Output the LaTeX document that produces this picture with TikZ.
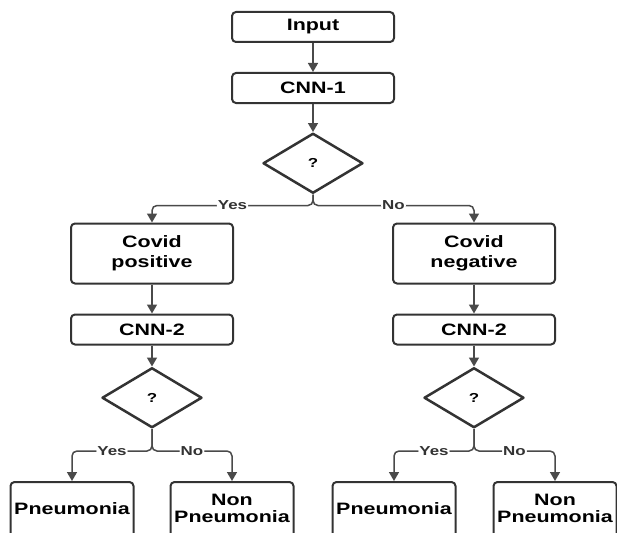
\documentclass[tikz,border=0pt]{standalone}
\usepackage{fontspec}
\setmainfont{Liberation Sans}[FakeStretch=1.3]
\usepackage{tikz}
\usetikzlibrary{shapes.geometric, arrows.meta, positioning}

\definecolor{boxline}{HTML}{333333}
\definecolor{flowline}{HTML}{4A4A4A}

\begin{document}
\begin{tikzpicture}[x=1pt, y=1pt]
        \tikzstyle{block} = [rectangle, draw=boxline, line width=2pt, rounded corners=4pt, align=center, minimum width=162pt, minimum height=30pt, font=\bfseries\fontsize{16.5}{20}\selectfont]
        \tikzstyle{tall} = [minimum height=60pt]
        \tikzstyle{leaf} = [block, minimum width=123pt, minimum height=60pt, text depth=7.5pt, font=\bfseries\fontsize{16.5}{17.5}\selectfont]
        \tikzstyle{decision} = [diamond, draw=boxline, line width=2.5pt, line join=round, minimum width=100pt, minimum height=60pt, inner sep=0pt, font=\bfseries\fontsize{13}{15}\selectfont]
        \tikzstyle{flow} = [draw=flowline, line width=1.5pt, -{Triangle[width=10pt, length=9pt]}]
        \tikzstyle{branch} = [flow, rounded corners=5pt]
        \tikzstyle{answer} = [fill=white, inner sep=1pt, text=boxline, font=\bfseries\fontsize{13}{15}\selectfont]

        \useasboundingbox (0,0) rectangle (617,-532);
        \clip (0,0) rectangle (617,-532);

        % top of the chart
        \node (input) [block] at (313,-27) {Input};
        \node (cnn1) [block, below=29pt of input] {CNN-1};
        \node (d1) [decision, below=28pt of cnn1] {?};

        % covid result
        \node (covpos) [block, tall, below=28pt of d1, xshift=-161pt] {Covid\\positive};
        \node (covneg) [block, tall, below=28pt of d1, xshift=161pt] {Covid\\negative};

        \node (cnn2pos) [block, below=29pt of covpos] {CNN-2};
        \node (cnn2neg) [block, below=29pt of covneg] {CNN-2};

        \node (d2pos) [decision, below=21pt of cnn2pos] {?};
        \node (d2neg) [decision, below=21pt of cnn2neg] {?};

        % pneumonia result
        \node (pneupos) [leaf, below=52pt of d2pos, xshift=-80pt] {Pneumonia};
        \node (nonpos) [leaf, below=52pt of d2pos, xshift=80pt] {Non\\Pneumonia};
        \node (pneuneg) [leaf, below=52pt of d2neg, xshift=-80pt] {Pneumonia};
        \node (nonneg) [leaf, below=52pt of d2neg, xshift=81pt] {Non\\Pneumonia};

        \draw [flow] (input) -- (cnn1);
        \draw [flow] (cnn1) -- (d1);
        \draw [branch] (d1.south) |- ([yshift=17pt]covpos.north) node [answer, pos=0.75] {Yes} -- (covpos.north);
        \draw [branch] (d1.south) |- ([yshift=17pt]covneg.north) node [answer, pos=0.75] {No} -- (covneg.north);

        \draw [flow] (covpos) -- (cnn2pos);
        \draw [flow] (covneg) -- (cnn2neg);
        \draw [flow] (cnn2pos) -- (d2pos);
        \draw [flow] (cnn2neg) -- (d2neg);

        \draw [branch] (d2pos.south) |- ([yshift=30pt]pneupos.north) node [answer, pos=0.75] {Yes} -- (pneupos.north);
        \draw [branch] (d2pos.south) |- ([yshift=30pt]nonpos.north) node [answer, pos=0.75] {No} -- (nonpos.north);
        \draw [branch] (d2neg.south) |- ([yshift=30pt]pneuneg.north) node [answer, pos=0.75] {Yes} -- (pneuneg.north);
        \draw [branch] (d2neg.south) |- ([yshift=30pt]nonneg.north) node [answer, pos=0.75] {No} -- (nonneg.north);
\end{tikzpicture}
\end{document}
